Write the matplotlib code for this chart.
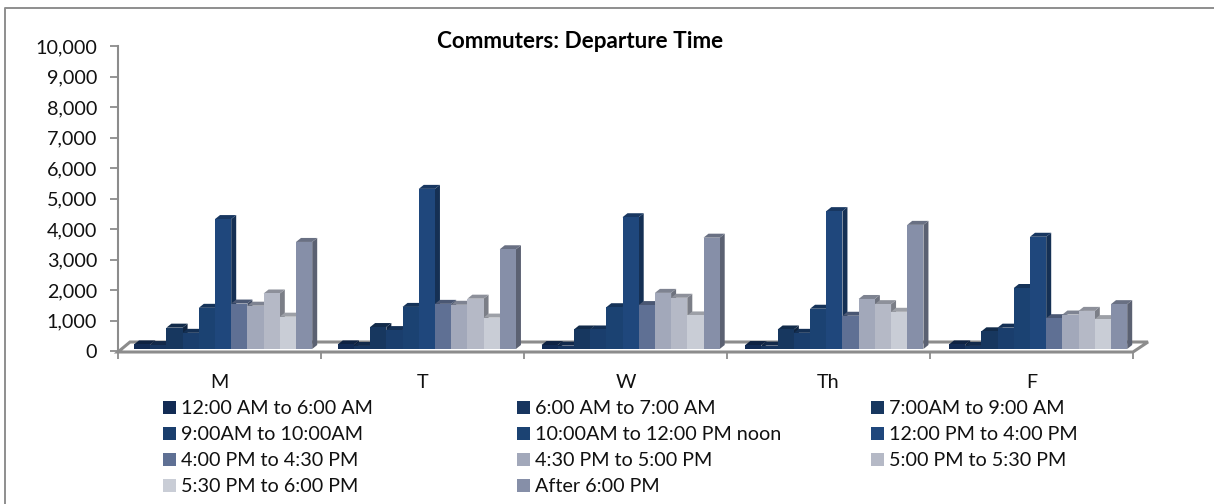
import matplotlib
matplotlib.use("Agg")
import matplotlib.pyplot as plt
from matplotlib.colors import to_rgb
from matplotlib.lines import Line2D
from matplotlib.patches import Polygon, Rectangle
import numpy as np

plt.rcParams['font.family'] = ['Lato', 'DejaVu Sans']

days = ["M", "T", "W", "Th", "F"]
series_names = ["12:00 AM to 6:00 AM", "6:00 AM to 7:00 AM", "7:00AM to 9:00 AM",
                "9:00AM to 10:00AM", "10:00AM to 12:00 PM noon", "12:00 PM to 4:00 PM",
                "4:00 PM to 4:30 PM", "4:30 PM to 5:00 PM", "5:00 PM to 5:30 PM",
                "5:30 PM to 6:00 PM", "After 6:00 PM"]
colors = ["#122B54", "#17355F", "#17375F", "#1A3E6D", "#1B4272", "#1F477C",
          "#5F7094", "#A2A8BA", "#B5B9C6", "#C9CDD6", "#868FA8"]

monday = [150, 130, 700, 530, 1350, 4260, 1490, 1420, 1820, 1060, 3510]
tuesday = [150, 100, 720, 620, 1380, 5250, 1480, 1450, 1650, 1030, 3270]
wednesday = [130, 110, 640, 640, 1370, 4320, 1440, 1840, 1680, 1100, 3650]
thursday = [130, 110, 640, 530, 1320, 4520, 1090, 1640, 1470, 1220, 4070]
friday = [150, 100, 580, 700, 2000, 3680, 1010, 1130, 1250, 980, 1470]
values = [monday, tuesday, wednesday, thursday, friday]

W, H = 1214, 504
GREY = "#8C8C8C"
fig = plt.figure(figsize=(W / 100, H / 100), dpi=100)
ax = fig.add_axes([118 / W, (H - 351) / H, 1015 / W, 305 / H])
ax.set_xlim(0, 5)
ax.set_ylim(0, 10000)
ax.patch.set_alpha(0)

# pixels -> data, for the fake 3d depth
px_x = 5 / 1015
px_y = 10000 / 305
depth_x = 5 * px_x
depth_y = 4 * px_y
base = 2 * px_y
bar_w = 16.2 * px_x
group_step = 203.75 * px_x
group_start = 16 * px_x

# floor
floor = [(0, -1 * px_y), (5, -1 * px_y), (5 + 15 * px_x, 9 * px_y), (12 * px_x, 9 * px_y)]
ax.add_patch(Polygon(floor, closed=True, fc="white", ec=GREY, lw=2.2, clip_on=False, zorder=1))

for d, day_vals in enumerate(values):
    start = group_start + d * group_step
    for s, v in enumerate(day_vals):
        x0 = start + s * bar_w
        x1 = x0 + bar_w
        top = v + base
        rgb = np.array(to_rgb(colors[s]))
        z = 3 + d * 100 + s
        # side, top, front
        ax.add_patch(Polygon([(x1, base), (x1 + depth_x, base + depth_y),
                              (x1 + depth_x, top + depth_y), (x1, top)],
                             fc=rgb * 0.68, ec="none", clip_on=False, zorder=z))
        ax.add_patch(Polygon([(x0, top), (x1, top), (x1 + depth_x, top + depth_y),
                              (x0 + depth_x, top + depth_y)],
                             fc=rgb * 0.78, ec="none", clip_on=False, zorder=z))
        ax.add_patch(Rectangle((x0, base), bar_w, v, fc=rgb, ec="none", clip_on=False, zorder=z + 0.5))

for side in ["top", "right", "bottom"]:
    ax.spines[side].set_visible(False)
ax.spines["left"].set_color(GREY)
ax.spines["left"].set_linewidth(1.5)
ax.set_yticks(np.arange(0, 10001, 1000))
ax.set_yticklabels([f"{t:,}" for t in range(0, 10001, 1000)])
ax.tick_params(axis="y", length=6, width=1.3, color=GREY, labelsize=14.2, pad=9, labelcolor="#111111")
ax.set_xticks(np.arange(0, 6))
ax.set_xticklabels([])
ax.tick_params(axis="x", length=6, width=1.3, color=GREY)
for d, day in enumerate(days):
    fig.text((118 + 203 * (d + 0.5)) / W, 1 - 382 / H, day, fontsize=14.2, ha="center", va="center", color="#111111")

fig.text(580 / W, 1 - 42 / H, "Commuters: Departure Time", fontsize=16.2, fontweight="bold",
         ha="center", va="center", color="black")

# legend, three columns
col_x = [163, 517, 871]
row_y = [407, 433, 459, 485]
for i, name in enumerate(series_names):
    cx = col_x[i % 3]
    cy = row_y[i // 3]
    fig.add_artist(Rectangle((cx / W, 1 - (cy + 6.5) / H), 13 / W, 13 / H, fc=colors[i], ec="none",
                             transform=fig.transFigure))
    fig.text((cx + 18) / W, 1 - (cy + 2) / H, name, fontsize=14.2, ha="left", va="center", color="#111111")

# chart border, only top and left are in the picture
fig.add_artist(Line2D([5 / W, 5 / W, 1], [0, 1 - 7.5 / H, 1 - 7.5 / H], color="#8E8E8E", lw=1.4,
                      transform=fig.transFigure))

fig.savefig("out.png", dpi=100)
